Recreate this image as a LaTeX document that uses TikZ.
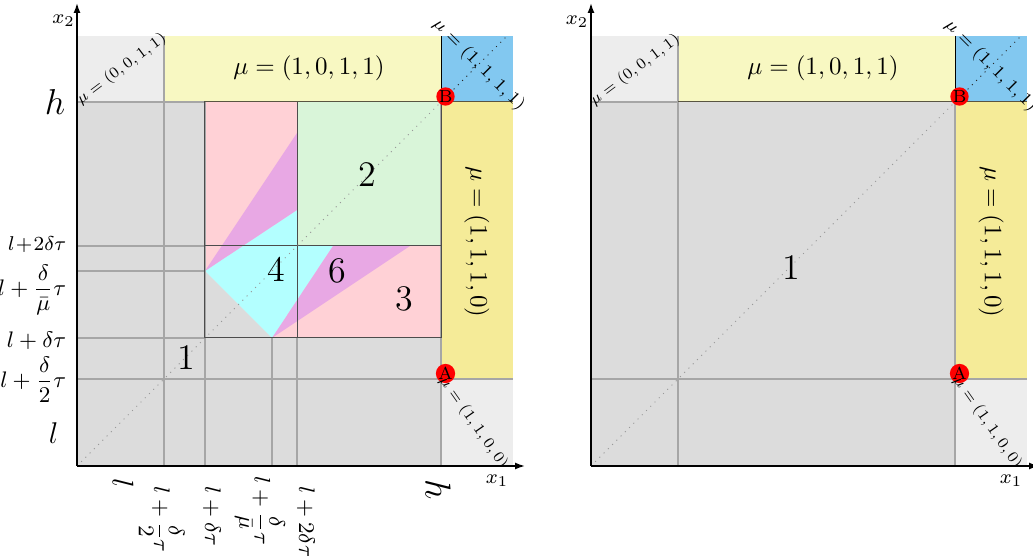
\documentclass[tikz,border=0pt]{standalone}
\usepackage{amsmath,amssymb}
\usepackage{tikz}
\usetikzlibrary{arrows.meta}
\definecolor{cornergray}{HTML}{EDEDED}
\definecolor{regiongray}{HTML}{DCDCDC}
\definecolor{topyellow}{HTML}{F8F8C2}
\definecolor{sideyellow}{HTML}{F5EB98}
\definecolor{cornerblue}{HTML}{82C8F0}
\definecolor{regionpink}{HTML}{FFD1D6}
\definecolor{regiongreen}{HTML}{D9F5D9}
\definecolor{regioncyan}{HTML}{B3FFFF}
\definecolor{regionmagenta}{HTML}{E8A8E4}
\tikzset{
  gridline/.style={draw=black!35, semithick},
  boxline/.style={draw=black!70, thin},
  edgeline/.style={draw=yellow!25!black, thin},
  axis/.style={-{Latex[length=4pt,width=2.8pt]}, semithick},
  dot/.style={circle, fill=red, inner sep=0pt, minimum size=6.8pt, font=\scriptsize},
  ticklabel/.style={font=\small},
  xticklabel/.style={font=\small, rotate=-90, anchor=west},
  mulabel/.style={font=\scriptsize, scale=0.88},
  regionlabel/.style={font=\Large},
}

\begin{document}
\begin{tikzpicture}[x=4pt, y=4pt]
    \useasboundingbox (-7.7,-9.0) rectangle (95.6,46.6);

    % ---------- left panel ----------
    % Regions
    \fill[regiongray] (0,0) rectangle (36.4,36.4);
    \fill[cornergray] (0,36.4) rectangle (8.7,43);
    \fill[topyellow] (8.7,36.4) rectangle (36.4,43);
    \fill[cornerblue] (36.4,36.4) rectangle (43.6,43);
    \fill[sideyellow] (36.4,8.7) rectangle (43.6,36.4);
    \fill[cornergray] (36.4,0) rectangle (43.6,8.7);
    % Sub-regions 2, 3, 4, 6
    \fill[regionpink] (12.8,12.8) rectangle (22,36.4);
    \fill[regionpink] (22,12.8) rectangle (36.4,22);
    \fill[regiongreen] (22,22) rectangle (36.4,36.4);
    \fill[regiongray] (12.8,19.5) -- (19.5,12.8) -- (12.8,12.8) -- cycle;
    \fill[regioncyan] (12.8,19.5) -- (22,25.6) -- (22,22) -- (25.6,22) -- (19.5,12.8) -- cycle;
    \fill[regionmagenta] (12.8,19.5) -- (22,33.3) -- (22,25.6) -- cycle;
    \fill[regionmagenta] (19.5,12.8) -- (33.3,22) -- (25.6,22) -- cycle;
    % Grid lines
    \draw[gridline] (8.7,0) -- (8.7,43) (12.8,0) -- (12.8,36.4)
        (19.5,0) -- (19.5,12.8) (22,0) -- (22,12.8)
        (0,8.7) -- (43.6,8.7) (0,12.8) -- (12.8,12.8)
        (0,19.5) -- (12.8,19.5) (0,22) -- (12.8,22)
        (0,36.4) -- (12.8,36.4) (36.4,0) -- (36.4,36.4);
    \draw[boxline] (12.8,12.8) rectangle (36.4,36.4)
        (12.8,22) -- (36.4,22) (22,12.8) -- (22,36.4);
    \draw[edgeline] (12.8,36.4) -- (43.6,36.4);
    \draw[thin, black] (36.4,36.4) -- (36.4,43);
    % Diagonal
    \draw[dotted, black!40] (0,0) -- (36.4,36.4);
    \draw[dotted, black!85] (36.4,36.4) -- (43,43);
    % Axes
    \coordinate (O) at (0,0);
    \coordinate (X) at (44.8,0);
    \coordinate (Y) at (0,46.3);
    \draw[axis] (O) -- (X);
    \draw[axis] (O) -- (Y);
    \node[font=\footnotesize] (x1) at (42.0,-1.5) {$x_1$};
    \node[font=\footnotesize] (x2) at (-1.35,44.5) {$x_2$};
    % Points
    \node[dot] (A) at (36.85,9.25) {A};
    \node[dot] (B) at (36.85,36.95) {B};
    % Mode labels
    \node[mulabel, rotate=37] (m0011) at (4.45,39.7) {$\mu=(0,0,1,1)$};
    \node (m1011) at (23.2,39.8) {$\mu=(1,0,1,1)$};
    \node[font=\scriptsize, rotate=-45] (m1111) at (40.2,40.1) {$\mu=(1,1,1,1)$};
    \node[rotate=-90] (m1110) at (40.0,22.4) {$\mu=(1,1,1,0)$};
    \node[mulabel, rotate=-55] (m1100) at (39.65,4.35) {$\mu=(1,1,0,0)$};
    % Region numbers
    \node[regionlabel] (r1) at (10.9,10.8) {1};
    \node[regionlabel] (r2) at (29.05,29.1) {2};
    \node[regionlabel] (r3) at (32.75,16.75) {3};
    \node[regionlabel] (r4) at (19.9,19.65) {4};
    \node[regionlabel] (r6) at (26.0,19.55) {6};
    % Ticks on x_2
    \node[font=\Large] (yh) at (-2.2,36.4) {$h$};
    \node[font=\footnotesize, anchor=east] (y4) at (-0.2,22.1) {$l\!+\!2\delta\tau$};
    \node[ticklabel, anchor=east] (y3) at (-0.2,17.6) {$l+\dfrac{\delta}{\bar\mu}\tau$};
    \node[ticklabel, anchor=east] (y2) at (-0.2,12.5) {$l+\delta\tau$};
    \node[ticklabel, anchor=east] (y1) at (-0.2,8.6) {$l+\dfrac{\delta}{2}\tau$};
    \node[font=\large] (yl) at (-2.35,3.3) {$l$};
    % Ticks on x_1
    \node[font=\large, rotate=-90] (xl) at (4.6,-1.75) {$l$};
    \node[xticklabel] (xt1) at (8.47,-1.2) {$l+\dfrac{\delta}{2}\tau$};
    \node[xticklabel] (xt2) at (13.5,-1.2) {$l+\delta\tau$};
    \node[xticklabel] (xt3) at (18.3,-0.2) {$l+\dfrac{\delta}{\bar\mu}\tau$};
    \node[xticklabel] (xt4) at (22.9,-1.2) {$l+2\delta\tau$};
    \node[font=\Large, rotate=-90] (xh) at (36.1,-2.4) {$h$};

    % ---------- right panel ----------
    \begin{scope}[shift={(51.4,0)}]
    % Regions
    \fill[regiongray] (0,0) rectangle (36.4,36.4);
    \fill[cornergray] (0,36.4) rectangle (8.7,43);
    \fill[topyellow] (8.7,36.4) rectangle (36.4,43);
    \fill[cornerblue] (36.4,36.4) rectangle (43.6,43);
    \fill[sideyellow] (36.4,8.7) rectangle (43.6,36.4);
    \fill[cornergray] (36.4,0) rectangle (43.6,8.7);
    % Grid lines
    \draw[gridline] (8.7,0) -- (8.7,43) (0,8.7) -- (43.6,8.7)
        (0,36.4) -- (8.7,36.4) (36.4,0) -- (36.4,36.4);
    \draw[edgeline] (8.7,36.4) -- (43.6,36.4);
    \draw[thin, black] (36.4,36.4) -- (36.4,43);
    % Diagonal
    \draw[dotted, black!40] (0,0) -- (36.4,36.4);
    \draw[dotted, black!85] (36.4,36.4) -- (43,43);
    % Axes
    \coordinate (O') at (0,0);
    \coordinate (X') at (44.8,0);
    \coordinate (Y') at (0,46.3);
    \draw[axis] (O') -- (X');
    \draw[axis] (O') -- (Y');
    \node[font=\footnotesize] (x1') at (42.0,-1.5) {$x_1$};
    \node[font=\footnotesize] (x2') at (-1.4,44.45) {$x_2$};
    % Points
    \node[dot] (A') at (36.85,9.25) {A};
    \node[dot] (B') at (36.85,36.95) {B};
    % Mode labels
    \node[mulabel, rotate=37] (n0011) at (4.4,39.6) {$\mu=(0,0,1,1)$};
    \node (n1011) at (23.2,39.8) {$\mu=(1,0,1,1)$};
    \node[font=\scriptsize, rotate=-45] (n1111) at (40.0,40.0) {$\mu=(1,1,1,1)$};
    \node[rotate=-90] (n1110) at (40.0,22.4) {$\mu=(1,1,1,0)$};
    \node[mulabel, rotate=-55] (n1100) at (39.65,4.35) {$\mu=(1,1,0,0)$};
    % Region number
    \node[regionlabel] (s1) at (20.0,19.8) {1};
    \end{scope}
\end{tikzpicture}
\end{document}
